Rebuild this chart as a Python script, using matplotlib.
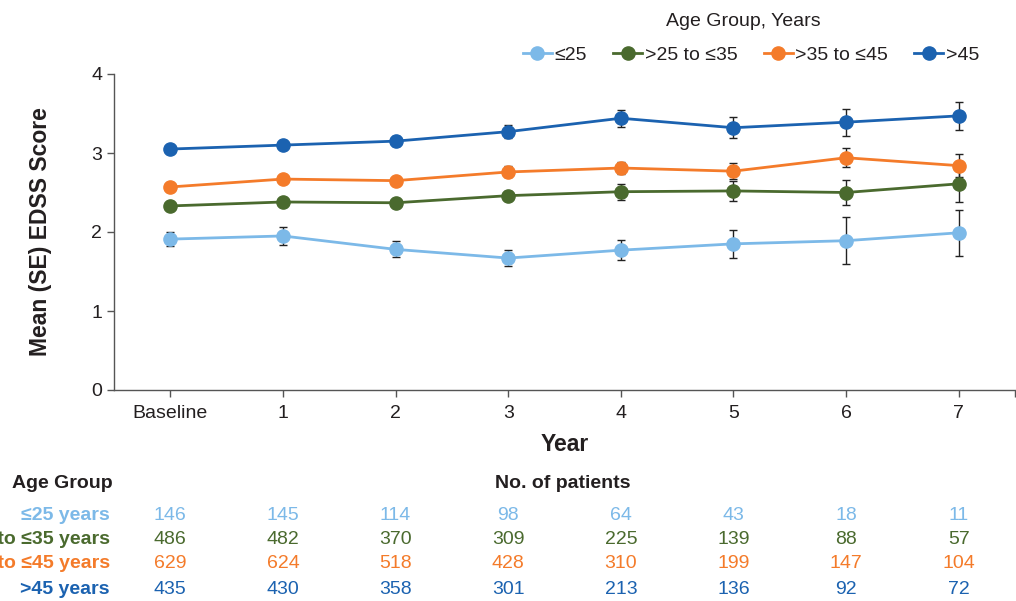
import matplotlib
matplotlib.use("Agg")
import matplotlib.pyplot as plt
import numpy as np

plt.rcParams['font.family'] = ['Liberation Sans', 'DejaVu Sans']

x_labels = ["Baseline", "1", "2", "3", "4", "5", "6", "7"]
groups = ["≤25", ">25 to ≤35", ">35 to ≤45", ">45"]
row_labels = ["≤25 years", ">25 to ≤35 years", ">35 to ≤45 years", ">45 years"]
colors = ["#7cb9e8", "#4a6a2e", "#f47b2a", "#1b62b0"]

mean_le25 = [1.91, 1.95, 1.78, 1.67, 1.77, 1.85, 1.89, 1.99]
se_le25 = [0.09, 0.11, 0.10, 0.10, 0.13, 0.18, 0.30, 0.29]
mean_25_35 = [2.33, 2.38, 2.37, 2.46, 2.51, 2.52, 2.50, 2.61]
se_25_35 = [0.03, 0.04, 0.05, 0.06, 0.10, 0.13, 0.16, 0.23]
mean_35_45 = [2.57, 2.67, 2.65, 2.76, 2.81, 2.77, 2.94, 2.84]
se_35_45 = [0.03, 0.03, 0.05, 0.07, 0.07, 0.10, 0.12, 0.15]
mean_gt45 = [3.05, 3.10, 3.15, 3.27, 3.44, 3.32, 3.39, 3.47]
se_gt45 = [0.05, 0.05, 0.06, 0.08, 0.11, 0.13, 0.17, 0.18]

n_le25 = [146, 145, 114, 98, 64, 43, 18, 11]
n_25_35 = [486, 482, 370, 309, 225, 139, 88, 57]
n_35_45 = [629, 624, 518, 428, 310, 199, 147, 104]
n_gt45 = [435, 430, 358, 301, 213, 136, 92, 72]

means = [mean_le25, mean_25_35, mean_35_45, mean_gt45]
ses = [se_le25, se_25_35, se_35_45, se_gt45]
counts = [n_le25, n_25_35, n_35_45, n_gt45]

W, H = 1016, 601


def fx(px):
    return px / W


def fy(py):
    return 1 - py / H


fig = plt.figure(figsize=(W / 100, H / 100), dpi=100)
ax = fig.add_axes([114 / W, 1 - 390 / H, (1015 - 114) / W, (390 - 74) / H])

xs = np.arange(len(x_labels))
txt = "#231f20"
for m, s, c, g in zip(means, ses, colors, groups):
    ax.errorbar(xs, m, yerr=s, fmt='none', ecolor='#222222', elinewidth=1.0,
                capsize=3, capthick=1.0, zorder=2)
    ax.plot(xs, m, '-o', color=c, lw=2.0, ms=9.5, label=g, zorder=3)

ax.set_xlim(-0.5, 7.5)
ax.set_ylim(0, 4)
ax.set_yticks([0, 1, 2, 3, 4])
ax.set_xticks(xs)
ax.set_xticklabels(x_labels)
ax.set_xticks([7.5], minor=True)
for sp in ['top', 'right']:
    ax.spines[sp].set_visible(False)
for sp in ['left', 'bottom']:
    ax.spines[sp].set_color('#555555')
    ax.spines[sp].set_linewidth(1.0)
ax.tick_params(axis='both', which='both', direction='out', length=5, color='#555555',
               labelsize=14, labelcolor=txt, width=1.0)
ax.tick_params(axis='x', pad=6)
ax.set_ylabel("Mean (SE) EDSS Score", fontsize=16.5, fontweight='bold', color=txt)
ax.yaxis.set_label_coords((52 - 114) / (1015 - 114), 0.5)
ax.set_xlabel("Year", fontsize=16.5, fontweight='bold', color=txt, labelpad=8)

fig.text(fx(743), fy(22), "Age Group, Years", ha='center', va='center', fontsize=14, color=txt)
leg = fig.legend(loc='center', bbox_to_anchor=(fx(751), fy(55)), ncol=4, frameon=False,
                 fontsize=14, handlelength=1.5, handletextpad=0.12, columnspacing=1.35,
                 labelcolor=txt, borderpad=0.2)

# patient table
xpix = [ax.transData.transform((x, 0))[0] for x in xs]
fs = 14
fig.text(fx(113), fy(484), "Age Group", ha='right', va='center', fontsize=fs,
         fontweight='bold', color=txt)
fig.text(fx(563), fy(484), "No. of patients", ha='center', va='center', fontsize=fs,
         fontweight='bold', color=txt)
row_y = [516, 540, 564, 589]
for lab, cnt, c, yy in zip(row_labels, counts, colors, row_y):
    fig.text(fx(110), fy(yy), lab, ha='right', va='center', fontsize=fs,
             fontweight='bold', color=c)
    for xp, n in zip(xpix, cnt):
        fig.text(xp / W, fy(yy), str(n), ha='center', va='center', fontsize=fs, color=c)

fig.savefig("out.png", dpi=100)
